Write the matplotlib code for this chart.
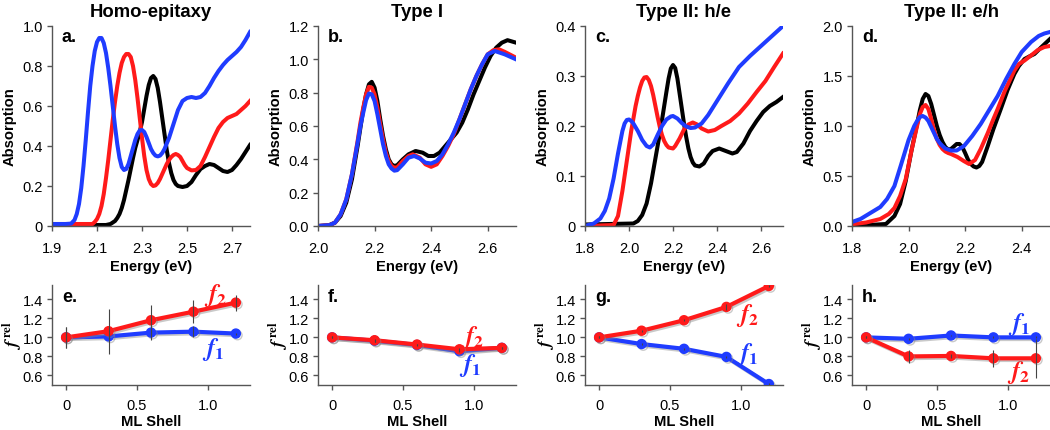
import matplotlib
matplotlib.use("Agg")
import matplotlib.pyplot as plt
import matplotlib.patheffects as pe

plt.rcParams['font.family'] = ['Liberation Sans', 'DejaVu Sans']
plt.rcParams['axes.linewidth'] = 1.0

RED = '#ff1a1a'
BLUE = '#1f3cff'
BLACK = '#000000'

# ---- a. Homo-epitaxy ----
a_blue_x = [1.90, 1.96, 1.985, 2.00, 2.01, 2.02, 2.03, 2.04, 2.05, 2.06, 2.07, 2.08, 2.09, 2.10, 2.11, 2.12,
            2.13, 2.14, 2.15, 2.16, 2.17, 2.18, 2.19, 2.20, 2.21, 2.22, 2.23, 2.24, 2.25, 2.26, 2.27, 2.28,
            2.29, 2.30, 2.31, 2.32, 2.33, 2.34, 2.35, 2.36, 2.37, 2.38, 2.39, 2.40, 2.42, 2.44, 2.46, 2.48,
            2.50, 2.52, 2.54, 2.56, 2.58, 2.60, 2.62, 2.64, 2.66, 2.68, 2.70, 2.72, 2.74, 2.76, 2.78]
a_blue_y = [0.01, 0.01, 0.012, 0.03, 0.06, 0.11, 0.19, 0.30, 0.43, 0.57, 0.70, 0.80, 0.875, 0.92, 0.94, 0.94,
            0.915, 0.865, 0.79, 0.70, 0.60, 0.50, 0.41, 0.34, 0.295, 0.28, 0.285, 0.31, 0.35, 0.39, 0.43, 0.46,
            0.478, 0.48, 0.47, 0.445, 0.415, 0.385, 0.365, 0.352, 0.348, 0.352, 0.365, 0.385, 0.44, 0.51, 0.58, 0.625,
            0.64, 0.645, 0.64, 0.645, 0.665, 0.70, 0.74, 0.775, 0.805, 0.83, 0.85, 0.87, 0.895, 0.93, 0.97]
a_red_x = [1.90, 2.08, 2.09, 2.10, 2.11, 2.12, 2.13, 2.14, 2.15, 2.16, 2.17, 2.18, 2.19, 2.20, 2.21, 2.22,
           2.23, 2.24, 2.25, 2.26, 2.27, 2.28, 2.29, 2.30, 2.31, 2.32, 2.33, 2.34, 2.35, 2.36, 2.37, 2.38,
           2.39, 2.40, 2.41, 2.42, 2.43, 2.44, 2.45, 2.46, 2.47, 2.48, 2.49, 2.50, 2.52, 2.54, 2.56, 2.58,
           2.60, 2.62, 2.64, 2.66, 2.68, 2.70, 2.72, 2.74, 2.76, 2.78]
a_red_y = [0.01, 0.01, 0.02, 0.035, 0.06, 0.10, 0.16, 0.24, 0.33, 0.43, 0.53, 0.62, 0.70, 0.765, 0.815, 0.845,
           0.86, 0.86, 0.845, 0.80, 0.73, 0.64, 0.54, 0.44, 0.35, 0.28, 0.235, 0.21, 0.20, 0.203, 0.215, 0.235,
           0.26, 0.285, 0.31, 0.33, 0.345, 0.355, 0.36, 0.355, 0.345, 0.325, 0.305, 0.29, 0.278, 0.28, 0.30, 0.345,
           0.395, 0.445, 0.49, 0.52, 0.54, 0.55, 0.56, 0.58, 0.60, 0.625]
a_black_x = [1.90, 2.14, 2.16, 2.18, 2.19, 2.20, 2.21, 2.22, 2.23, 2.24, 2.25, 2.26, 2.27, 2.28, 2.29, 2.30,
             2.31, 2.32, 2.33, 2.34, 2.35, 2.36, 2.37, 2.38, 2.39, 2.40, 2.41, 2.42, 2.43, 2.44, 2.45, 2.46,
             2.48, 2.50, 2.52, 2.54, 2.56, 2.58, 2.60, 2.62, 2.64, 2.66, 2.68, 2.70, 2.72, 2.74, 2.76, 2.78]
a_black_y = [0.005, 0.005, 0.01, 0.025, 0.04, 0.06, 0.09, 0.13, 0.18, 0.23, 0.285, 0.34, 0.39, 0.43, 0.47, 0.52,
             0.585, 0.65, 0.705, 0.74, 0.75, 0.735, 0.69, 0.62, 0.54, 0.46, 0.38, 0.315, 0.265, 0.23, 0.21, 0.20,
             0.195, 0.20, 0.22, 0.255, 0.285, 0.30, 0.31, 0.305, 0.29, 0.275, 0.27, 0.28, 0.305, 0.335, 0.37, 0.405]

# ---- b. Type I ----
b_black_x = [2.00, 2.04, 2.06, 2.08, 2.10, 2.12, 2.14, 2.15, 2.16, 2.17, 2.18, 2.19, 2.20, 2.21, 2.22, 2.23,
             2.24, 2.25, 2.26, 2.27, 2.28, 2.30, 2.32, 2.345, 2.37, 2.39, 2.41, 2.43, 2.45, 2.47, 2.49, 2.51,
             2.53, 2.55, 2.57, 2.59, 2.61, 2.63, 2.65, 2.67, 2.70]
b_black_y = [0.00, 0.005, 0.02, 0.06, 0.14, 0.28, 0.48, 0.59, 0.70, 0.79, 0.85, 0.865, 0.83, 0.75, 0.64, 0.54,
             0.46, 0.40, 0.37, 0.36, 0.365, 0.40, 0.43, 0.45, 0.44, 0.42, 0.42, 0.44, 0.48, 0.52, 0.56, 0.62,
             0.70, 0.79, 0.87, 0.95, 1.02, 1.07, 1.10, 1.115, 1.10]
b_red_x = [2.00, 2.04, 2.06, 2.08, 2.10, 2.12, 2.14, 2.15, 2.16, 2.17, 2.18, 2.19, 2.20, 2.21, 2.22, 2.23,
           2.24, 2.25, 2.26, 2.27, 2.28, 2.30, 2.32, 2.335, 2.36, 2.38, 2.40, 2.42, 2.44, 2.46, 2.48, 2.50,
           2.52, 2.54, 2.56, 2.58, 2.60, 2.62, 2.64, 2.66, 2.70]
b_red_y = [0.00, 0.005, 0.02, 0.07, 0.16, 0.31, 0.51, 0.62, 0.71, 0.79, 0.835, 0.83, 0.79, 0.71, 0.61, 0.52,
           0.44, 0.39, 0.36, 0.35, 0.352, 0.39, 0.42, 0.43, 0.41, 0.37, 0.355, 0.37, 0.42, 0.48, 0.55, 0.64,
           0.73, 0.82, 0.90, 0.97, 1.03, 1.055, 1.06, 1.045, 1.01]
b_blue_x = [2.00, 2.04, 2.06, 2.08, 2.10, 2.12, 2.14, 2.15, 2.16, 2.17, 2.18, 2.19, 2.20, 2.21, 2.22, 2.23,
            2.24, 2.25, 2.26, 2.27, 2.28, 2.30, 2.32, 2.34, 2.36, 2.38, 2.40, 2.42, 2.44, 2.46, 2.48, 2.50,
            2.52, 2.54, 2.56, 2.58, 2.60, 2.625, 2.66, 2.70]
b_blue_y = [0.00, 0.005, 0.02, 0.07, 0.16, 0.31, 0.50, 0.60, 0.68, 0.755, 0.795, 0.79, 0.75, 0.67, 0.58, 0.49,
            0.42, 0.37, 0.345, 0.332, 0.335, 0.37, 0.41, 0.42, 0.405, 0.38, 0.375, 0.39, 0.43, 0.49, 0.56, 0.64,
            0.73, 0.82, 0.90, 0.97, 1.03, 1.05, 1.03, 1.00]

# ---- c. Type II: h/e ----
c_black_x = [1.80, 2.02, 2.04, 2.06, 2.08, 2.10, 2.12, 2.14, 2.15, 2.16, 2.17, 2.18, 2.19, 2.20, 2.21, 2.22,
             2.23, 2.24, 2.25, 2.26, 2.27, 2.28, 2.29, 2.30, 2.32, 2.34, 2.36, 2.38, 2.41, 2.44, 2.47, 2.49,
             2.52, 2.55, 2.58, 2.61, 2.64, 2.67, 2.70]
c_black_y = [0.003, 0.005, 0.01, 0.022, 0.045, 0.085, 0.135, 0.185, 0.212, 0.24, 0.268, 0.295, 0.315, 0.322, 0.316, 0.295,
             0.265, 0.235, 0.205, 0.178, 0.155, 0.138, 0.127, 0.121, 0.119, 0.125, 0.14, 0.15, 0.155, 0.15, 0.145, 0.148,
             0.165, 0.19, 0.21, 0.228, 0.24, 0.248, 0.258]
c_red_x = [1.80, 1.93, 1.95, 1.97, 1.99, 2.01, 2.03, 2.04, 2.05, 2.06, 2.07, 2.08, 2.09, 2.10, 2.11, 2.12,
           2.13, 2.14, 2.15, 2.16, 2.17, 2.18, 2.20, 2.21, 2.23, 2.25, 2.27, 2.29, 2.31, 2.33, 2.36, 2.39,
           2.42, 2.46, 2.50, 2.54, 2.58, 2.62, 2.66, 2.70]
c_red_y = [0.0, 0.002, 0.02, 0.07, 0.13, 0.19, 0.24, 0.26, 0.277, 0.29, 0.297, 0.298, 0.292, 0.28, 0.262, 0.24,
           0.218, 0.198, 0.182, 0.17, 0.162, 0.157, 0.155, 0.16, 0.175, 0.193, 0.203, 0.207, 0.203, 0.195, 0.189, 0.192,
           0.20, 0.21, 0.225, 0.245, 0.268, 0.29, 0.318, 0.345]
c_blue_x = [1.80, 1.84, 1.87, 1.89, 1.91, 1.93, 1.95, 1.97, 1.98, 1.99, 2.00, 2.01, 2.02, 2.04, 2.06, 2.08,
            2.095, 2.11, 2.13, 2.15, 2.17, 2.19, 2.20, 2.22, 2.24, 2.26, 2.28, 2.30, 2.33, 2.36, 2.40, 2.45,
            2.50, 2.55, 2.60, 2.65, 2.70]
c_blue_y = [0.0, 0.005, 0.015, 0.03, 0.055, 0.095, 0.145, 0.19, 0.205, 0.212, 0.213, 0.21, 0.205, 0.19, 0.172, 0.16,
            0.157, 0.163, 0.182, 0.20, 0.213, 0.219, 0.22, 0.215, 0.206, 0.199, 0.196, 0.197, 0.205, 0.222, 0.25, 0.285,
            0.318, 0.34, 0.36, 0.38, 0.40]

# ---- d. Type II: e/h ----
d_black_x = [1.80, 1.92, 1.95, 1.97, 1.99, 2.01, 2.03, 2.04, 2.05, 2.06, 2.07, 2.08, 2.09, 2.10, 2.11, 2.12,
             2.13, 2.14, 2.15, 2.16, 2.17, 2.18, 2.19, 2.20, 2.21, 2.22, 2.23, 2.24, 2.25, 2.26, 2.28, 2.30,
             2.326, 2.35, 2.374, 2.39, 2.41, 2.43, 2.445, 2.47, 2.50]
d_black_y = [0.0, 0.02, 0.10, 0.22, 0.45, 0.75, 1.02, 1.16, 1.27, 1.32, 1.30, 1.22, 1.11, 1.00, 0.91, 0.84,
             0.79, 0.765, 0.77, 0.795, 0.82, 0.82, 0.79, 0.73, 0.665, 0.62, 0.595, 0.585, 0.60, 0.64, 0.80, 0.97,
             1.17, 1.36, 1.52, 1.60, 1.67, 1.70, 1.72, 1.79, 1.87]
d_red_x = [1.80, 1.85, 1.90, 1.93, 1.95, 1.97, 1.99, 2.01, 2.03, 2.04, 2.05, 2.06, 2.07, 2.08, 2.09, 2.10,
           2.11, 2.12, 2.13, 2.14, 2.15, 2.173, 2.195, 2.214, 2.235, 2.255, 2.28, 2.30, 2.315, 2.34, 2.374, 2.39,
           2.41, 2.435, 2.457, 2.48, 2.50]
d_red_y = [0.017, 0.035, 0.07, 0.12, 0.18, 0.30, 0.47, 0.75, 1.00, 1.12, 1.19, 1.21, 1.17, 1.07, 0.96, 0.87,
           0.81, 0.77, 0.745, 0.73, 0.72, 0.69, 0.65, 0.62, 0.66, 0.77, 0.93, 1.07, 1.17, 1.35, 1.555, 1.62,
           1.655, 1.71, 1.76, 1.79, 1.80]
d_blue_x = [1.80, 1.83, 1.865, 1.90, 1.924, 1.95, 1.972, 2.00, 2.02, 2.03, 2.04, 2.05, 2.06, 2.07, 2.08, 2.09,
            2.10, 2.11, 2.12, 2.13, 2.15, 2.17, 2.196, 2.225, 2.255, 2.285, 2.315, 2.345, 2.374, 2.40, 2.433, 2.46,
            2.48, 2.50]
d_blue_y = [0.04, 0.07, 0.13, 0.19, 0.27, 0.40, 0.60, 0.86, 1.00, 1.05, 1.09, 1.10, 1.085, 1.05, 0.99, 0.93,
            0.87, 0.83, 0.80, 0.775, 0.755, 0.755, 0.80, 0.90, 1.02, 1.16, 1.30, 1.47, 1.62, 1.74, 1.84, 1.90,
            1.925, 1.94]

# ---- e-h: relative oscillator strength vs ML shell ----
shell = [0, 0.3, 0.6, 0.9, 1.2]
e_f1 = [1.00, 1.01, 1.05, 1.06, 1.04]
e_f1_err = [0.11, 0.03, 0.08, 0.06, 0.01]
e_f2 = [1.00, 1.065, 1.18, 1.27, 1.365]
e_f2_err = [0.11, 0.235, 0.16, 0.12, 0.085]
f_f1 = [1.00, 0.965, 0.92, 0.855, 0.89]
f_f1_err = [0.01, 0.01, 0.01, 0.01, 0.01]
f_f2 = [1.00, 0.97, 0.925, 0.875, 0.89]
f_f2_err = [0.01, 0.015, 0.01, 0.015, 0.01]
g_f1 = [1.00, 0.93, 0.88, 0.795, 0.51]
g_f1_err = [0.01, 0.01, 0.01, 0.01, 0.01]
g_f2 = [1.00, 1.07, 1.18, 1.32, 1.54]
g_f2_err = [0.01, 0.01, 0.01, 0.035, 0.01]
h_f1 = [1.00, 0.985, 1.02, 1.00, 1.00]
h_f1_err = [0.01, 0.01, 0.01, 0.01, 0.01]
h_f2 = [1.00, 0.80, 0.805, 0.78, 0.78]
h_f2_err = [0.01, 0.07, 0.02, 0.09, 0.205]

titles = ['Homo-epitaxy', 'Type I', 'Type II: h/e', 'Type II: e/h']
letters_top = ['a.', 'b.', 'c.', 'd.']
letters_bot = ['e.', 'f.', 'g.', 'h.']

top_curves = [
    [(a_black_x, a_black_y, BLACK), (a_red_x, a_red_y, RED), (a_blue_x, a_blue_y, BLUE)],
    [(b_black_x, b_black_y, BLACK), (b_red_x, b_red_y, RED), (b_blue_x, b_blue_y, BLUE)],
    [(c_black_x, c_black_y, BLACK), (c_red_x, c_red_y, RED), (c_blue_x, c_blue_y, BLUE)],
    [(d_black_x, d_black_y, BLACK), (d_red_x, d_red_y, RED), (d_blue_x, d_blue_y, BLUE)],
]
top_xlim = [(1.9, 2.78), (2.0, 2.7), (1.8, 2.7), (1.8, 2.5)]
top_xticks = [[1.9, 2.1, 2.3, 2.5, 2.7], [2.0, 2.2, 2.4, 2.6], [1.8, 2.0, 2.2, 2.4, 2.6], [1.8, 2.0, 2.2, 2.4]]
top_yticks = [[0, 0.2, 0.4, 0.6, 0.8, 1.0], [0, 0.2, 0.4, 0.6, 0.8, 1.0, 1.2],
              [0, 0.1, 0.2, 0.3, 0.4], [0, 0.5, 1.0, 1.5, 2.0]]
top_ylabels = [['0', '0.2', '0.4', '0.6', '0.8', '1.0'],
               ['0.0', '0.2', '0.4', '0.6', '0.8', '1.0', '1.2'],
               ['0', '0.1', '0.2', '0.3', '0.4'],
               ['0.0', '0.5', '1.0', '1.5', '2.0']]

# (f1, f1 err, f2, f2 err, f2 label pos, f1 label pos)
bot_series = [
    (e_f1, e_f1_err, e_f2, e_f2_err, (1.06, 1.45), (1.04, 0.88)),
    (f_f1, f_f1_err, f_f2, f_f2_err, (0.99, 1.01), (0.98, 0.72)),
    (g_f1, g_f1_err, g_f2, g_f2_err, (1.05, 1.24), (1.05, 0.83)),
    (h_f1, h_f1_err, h_f2, h_f2_err, (1.08, 0.64), (1.08, 1.15)),
]

col_left = [52, 318, 585, 852]
W, H = 1050, 431

fig = plt.figure(figsize=(10.5, 4.31), dpi=100)

def style(ax, xpad):
    for s in ['top', 'right']:
        ax.spines[s].set_visible(False)
    for s in ['left', 'bottom']:
        ax.spines[s].set_color('#555555')
    ax.tick_params(direction='out', length=3.5, width=1, color='#555555', labelsize=10.5)
    ax.tick_params(axis='x', pad=xpad)
    ax.tick_params(axis='y', pad=3)

shadow = [pe.SimpleLineShadow(offset=(1.2, -1.2), shadow_color='#888888', alpha=0.45), pe.Normal()]

for i in range(4):
    ax = fig.add_axes([col_left[i] / W, 204 / H, 198 / W, 200 / H])
    style(ax, 7)
    for x, y, c in top_curves[i]:
        ax.plot(x, y, color=c, lw=2.9, solid_joinstyle='round')
    ax.set_xlim(top_xlim[i])
    ax.set_ylim(0, top_yticks[i][-1])
    ax.set_xticks(top_xticks[i])
    ax.set_xticklabels(['%.1f' % t for t in top_xticks[i]])
    ax.set_yticks(top_yticks[i])
    ax.set_yticklabels(top_ylabels[i])
    ax.set_xlabel('Energy (eV)', fontsize=10.6, fontweight='bold', labelpad=3)
    ax.set_ylabel('Absorption', fontsize=10.6, fontweight='bold', labelpad=4)
    ax.set_title(titles[i], fontsize=13.3, fontweight='bold', pad=7)
    ax.text(0.05, 0.99, letters_top[i], transform=ax.transAxes, fontsize=13,
            fontweight='bold', va='top', ha='left')

for i in range(4):
    ax = fig.add_axes([col_left[i] / W, 45 / H, 198 / W, 100 / H])
    style(ax, 6)
    f1, f1e, f2, f2e, p2, p1 = bot_series[i]
    ax.plot(shell, f1, color=BLUE, lw=3, marker='o', ms=6.5, path_effects=shadow, zorder=3)
    ax.plot(shell, f2, color=RED, lw=3, marker='o', ms=6.5, path_effects=shadow, zorder=4)
    ax.errorbar(shell, f1, yerr=f1e, fmt='none', ecolor='#444444', elinewidth=0.8, capsize=0, zorder=5)
    ax.errorbar(shell, f2, yerr=f2e, fmt='none', ecolor='#444444', elinewidth=0.8, capsize=0, zorder=5)
    ax.set_xlim(-0.1, 1.3)
    ax.set_ylim(0.5, 1.55)
    ax.set_xticks([0, 0.5, 1.0])
    ax.set_xticklabels(['0', '0.5', '1.0'])
    ax.set_yticks([0.6, 0.8, 1.0, 1.2, 1.4])
    ax.set_yticklabels(['0.6', '0.8', '1.0', '1.2', '1.4'])
    ax.set_xlabel('ML Shell', fontsize=10.6, fontweight='bold', labelpad=1.5)
    ax.set_ylabel(r'$\mathbfit{f}^{\ \mathsf{\mathbf{rel}}}$', fontsize=13, labelpad=-1,
                  math_fontfamily='stix')
    ax.text(p2[0], p2[1], r'$\mathbfit{f}_{\mathbf{2}}$', color=RED, fontsize=18,
            ha='center', va='center', math_fontfamily='stix')
    ax.text(p1[0], p1[1], r'$\mathbfit{f}_{\mathbf{1}}$', color=BLUE, fontsize=18,
            ha='center', va='center', math_fontfamily='stix')
    ax.text(0.05, 0.97, letters_bot[i], transform=ax.transAxes, fontsize=13,
            fontweight='bold', va='top', ha='left')

fig.savefig('out.png', dpi=100)
